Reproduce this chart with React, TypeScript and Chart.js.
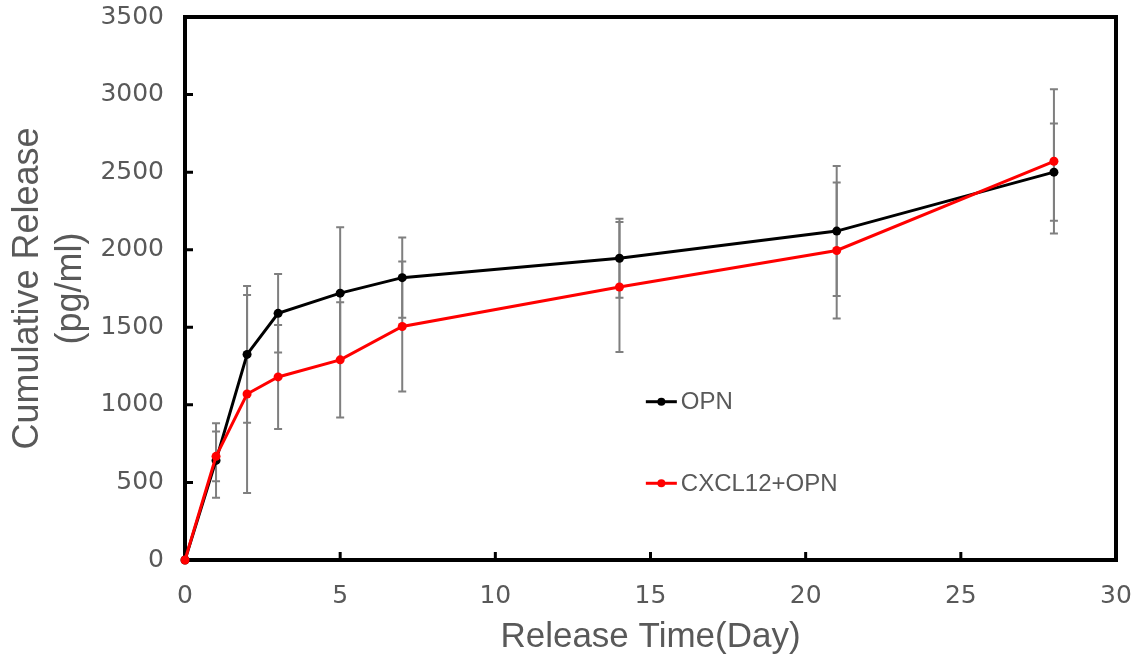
import React, { useEffect, useRef } from "react";
import { Chart, registerables } from "chart.js";

Chart.register(...registerables);

const days = [0, 1, 2, 3, 5, 7, 14, 21, 28];
const opnValues = [0, 642, 1325, 1590, 1720, 1820, 1945, 2120, 2500];
const opnErrors = [0, 240, 441, 253, 425, 258, 255, 419, 314];
const cxclValues = [0, 668, 1070, 1180, 1290, 1505, 1760, 1995, 2570];
const cxclErrors = [0, 160, 638, 335, 372, 419, 419, 438, 465];
const seriesNames = ["OPN", "CXCL12+OPN"];
const seriesColors = ["#000000", "#ff0000"];
const yTicks = [0, 500, 1000, 1500, 2000, 2500, 3000, 3500];
const xTicks = [0, 5, 10, 15, 20, 25, 30];

const TEXT = "#595959";

const framePlugin = {
  id: "frameAndErrors",
  beforeDatasetsDraw(chart: any) {
    const { ctx, chartArea, scales } = chart;
    const { left, right, top, bottom } = chartArea;
    ctx.save();
    // error bars
    ctx.strokeStyle = "#7f7f7f";
    ctx.lineWidth = 2;
    const errs = [opnErrors, cxclErrors];
    const vals = [opnValues, cxclValues];
    for (let s = 0; s < 2; s++) {
      for (let i = 0; i < days.length; i++) {
        const e = errs[s][i];
        if (!e) continue;
        const x = scales.x.getPixelForValue(days[i]);
        const y1 = scales.y.getPixelForValue(vals[s][i] + e);
        const y2 = scales.y.getPixelForValue(vals[s][i] - e);
        ctx.beginPath();
        ctx.moveTo(x, y1);
        ctx.lineTo(x, y2);
        ctx.moveTo(x - 4, y1);
        ctx.lineTo(x + 4, y1);
        ctx.moveTo(x - 4, y2);
        ctx.lineTo(x + 4, y2);
        ctx.stroke();
      }
    }
    // frame
    ctx.strokeStyle = "#000";
    ctx.lineWidth = 4;
    ctx.strokeRect(left, top, right - left, bottom - top);
    // inward tick marks
    ctx.lineWidth = 3;
    ctx.beginPath();
    for (const v of yTicks) {
      const y = scales.y.getPixelForValue(v);
      ctx.moveTo(left, y);
      ctx.lineTo(left + 8, y);
    }
    for (const v of xTicks) {
      const x = scales.x.getPixelForValue(v);
      ctx.moveTo(x, bottom);
      ctx.lineTo(x, bottom - 8);
    }
    ctx.stroke();
    ctx.restore();
  },
  afterDatasetsDraw(chart: any) {
    const { ctx, chartArea } = chart;
    const w = chartArea.right - chartArea.left;
    const h = chartArea.bottom - chartArea.top;
    const lx = chartArea.left + w * 0.495;
    const fys = [0.7085, 0.8587];
    ctx.save();
    for (let s = 0; s < 2; s++) {
      const y = chartArea.top + h * fys[s];
      ctx.strokeStyle = seriesColors[s];
      ctx.fillStyle = seriesColors[s];
      ctx.lineWidth = 3;
      ctx.beginPath();
      ctx.moveTo(lx, y);
      ctx.lineTo(lx + 31, y);
      ctx.stroke();
      ctx.beginPath();
      ctx.arc(lx + 15.5, y, 4, 0, Math.PI * 2);
      ctx.fill();
      ctx.fillStyle = TEXT;
      ctx.font = "24px 'Liberation Sans', Arial, sans-serif";
      ctx.textBaseline = "middle";
      ctx.textAlign = "left";
      ctx.fillText(seriesNames[s], lx + 35, y + 1);
    }
    ctx.restore();
  },
};

const zeroPad = (scale: any) => {
  scale.paddingTop = 0;
  scale.paddingBottom = 0;
  scale.paddingLeft = 0;
  scale.paddingRight = 0;
};

export default function App() {
  const ref = useRef<HTMLCanvasElement>(null);
  useEffect(() => {
    if (!ref.current) return;
    const chart = new Chart(ref.current, {
      type: "line",
      data: {
        datasets: [
          {
            label: seriesNames[0],
            data: days.map((d, i) => ({ x: d, y: opnValues[i] })),
            borderColor: seriesColors[0],
            backgroundColor: seriesColors[0],
            borderWidth: 3,
            pointRadius: 4.5,
            pointHoverRadius: 4.5,
            pointBorderWidth: 0,
            tension: 0,
            clip: false as any,
            order: 1,
          },
          {
            label: seriesNames[1],
            data: days.map((d, i) => ({ x: d, y: cxclValues[i] })),
            borderColor: seriesColors[1],
            backgroundColor: seriesColors[1],
            borderWidth: 3,
            pointRadius: 4.5,
            pointHoverRadius: 4.5,
            pointBorderWidth: 0,
            tension: 0,
            clip: false as any,
            order: 0,
          },
        ],
      },
      options: {
        responsive: false,
        animation: false,
        events: [],
        layout: { padding: { top: 17, right: 30, left: 0, bottom: 0 } },
        plugins: { legend: { display: false }, tooltip: { enabled: false } },
        scales: {
          x: {
            type: "linear",
            min: 0,
            max: 30,
            grid: { display: false, drawTicks: false },
            border: { display: false },
            ticks: {
              stepSize: 5,
              padding: 21,
              color: TEXT,
              font: { family: "'DejaVu Sans'", size: 25 },
              maxRotation: 0,
              callback: (v: any) => String(v),
            },
            title: {
              display: true,
              text: "Release Time(Day)",
              color: TEXT,
              font: { family: "'Liberation Sans', Arial", size: 35 },
              padding: { top: 0, bottom: 3 },
            },
            afterFit: (scale: any) => {
              scale.height = 101;
              zeroPad(scale);
            },
          },
          y: {
            type: "linear",
            min: 0,
            max: 3500,
            grid: { display: false, drawTicks: false },
            border: { display: false },
            ticks: {
              stepSize: 500,
              padding: 21,
              color: TEXT,
              font: { family: "'DejaVu Sans'", size: 25 },
              callback: (v: any) => String(v),
            },
            title: {
              display: true,
              text: ["Cumulative Release", "(pg/ml)"],
              color: TEXT,
              font: { family: "'Liberation Sans', Arial", size: 36, lineHeight: 1.2 },
              padding: { top: 6, bottom: 0 },
            },
            afterFit: (scale: any) => {
              scale.width = 185;
              zeroPad(scale);
            },
          },
        },
      },
      plugins: [framePlugin],
    });
    return () => chart.destroy();
  }, []);
  return (
    <div style={{ position: "fixed", left: 0, top: 0, width: 1146, height: 661, background: "#fff" }}>
      <canvas ref={ref} width={1146} height={661} style={{ width: 1146, height: 661, display: "block" }} />
    </div>
  );
}
